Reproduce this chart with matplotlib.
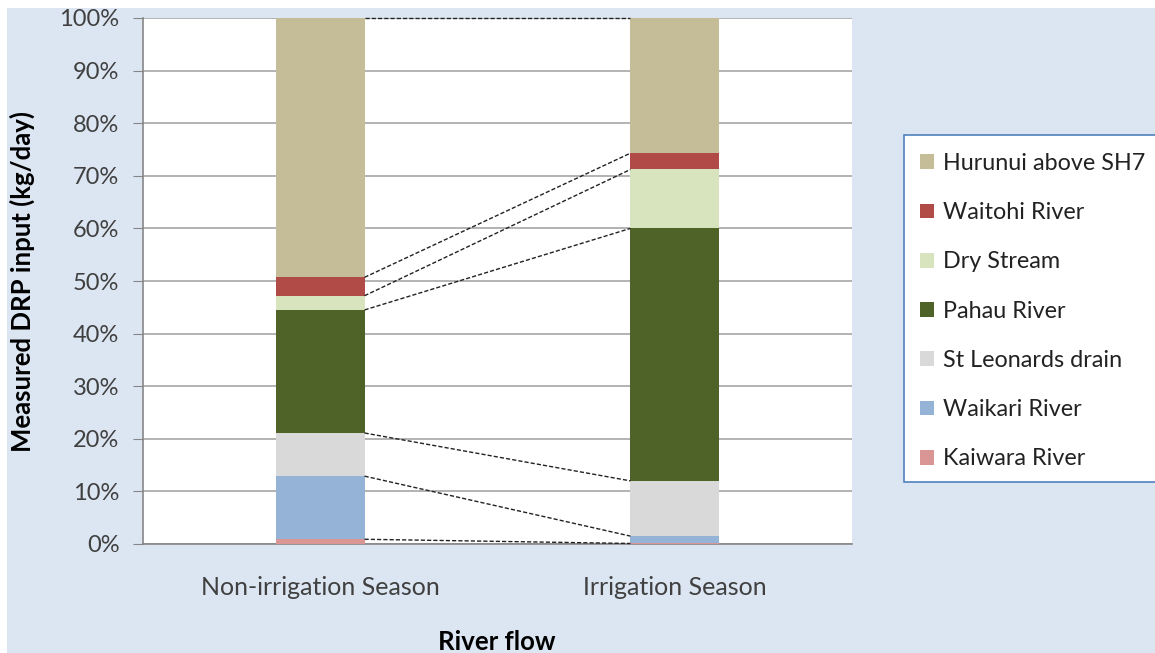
import matplotlib.pyplot as plt
from matplotlib.patches import Rectangle
import numpy as np

# data (share of measured DRP input, %)
seasons = ['Non-irrigation Season', 'Irrigation Season']
sources = ['Kaiwara River', 'Waikari River', 'St Leonards drain', 'Pahau River',
           'Dry Stream', 'Waitohi River', 'Hurunui above SH7']
non_irrigation = [0.9, 12.0, 8.2, 23.4, 2.7, 3.5, 49.3]
irrigation = [0.1, 1.4, 10.5, 48.0, 11.2, 3.1, 25.7]

colors = ['#d99694', '#95b3d7', '#d9d9d9', '#4f6228', '#d7e4bd', '#b04b48', '#c4bd97']

plt.rcParams['font.family'] = ['Lato', 'DejaVu Sans']

fig = plt.figure(figsize=(11.55, 6.53), dpi=100)
fig.patch.set_facecolor('white')
fig.patches.append(Rectangle((7 / 1155, 0), 1, 1 - 8 / 653, transform=fig.transFigure,
                             facecolor='#dce6f2', edgecolor='none', zorder=-5))

ax = fig.add_axes([143 / 1155, 1 - 544 / 653, (852 - 143) / 1155, (544 - 18) / 653])
ax.set_facecolor('white')

vals = np.array([non_irrigation, irrigation]).T
vals = vals / vals.sum(axis=0) * 100
x = np.arange(len(seasons))
width = 0.25
bottom = np.zeros(len(seasons))
for name, v, c in zip(sources, vals, colors):
    ax.bar(x, v, width, bottom=bottom, color=c, label=name, zorder=3)
    top = bottom + v
    # series lines between the bars
    ax.plot([x[0] + width / 2, x[1] - width / 2], [top[0], top[1]],
            color='#222222', lw=1.0, ls=(0, (3, 1.5)), zorder=4, clip_on=False)
    bottom = top

ax.set_xlim(-0.5, 1.5)
ax.set_ylim(0, 100)
ax.set_yticks(np.arange(0, 101, 10))
ax.set_yticklabels([f'{t}%' for t in range(0, 101, 10)])
ax.yaxis.grid(True, color='#a6a6a6', lw=1.2, zorder=0)
ax.tick_params(axis='y', length=7, color='#868686', labelsize=17, labelcolor='#404040', pad=10)
ax.set_xticks(x)
ax.set_xticklabels(seasons)
ax.tick_params(axis='x', length=0, labelsize=18, labelcolor='#404040', pad=23)
for s in ['top', 'right']:
    ax.spines[s].set_visible(False)
for s in ['left', 'bottom']:
    ax.spines[s].set_color('#868686')
    ax.spines[s].set_linewidth(1.2)

fig.text(22 / 1155, 1 - 281 / 653, 'Measured DRP input (kg/day)', rotation=90,
         ha='center', va='center', fontsize=18.5, fontweight='bold')
fig.text(497 / 1155, 1 - 642 / 653, 'River flow', ha='center', va='center',
         fontsize=18.5, fontweight='bold')

# legend box
fig.patches.append(Rectangle((904 / 1155, 1 - 482 / 653), 0.3, (482 - 135) / 653,
                             transform=fig.transFigure, facecolor='white',
                             edgecolor='#4f81bd', lw=1.2, zorder=1))
h, l = ax.get_legend_handles_labels()
fig.legend(h[::-1], l[::-1], loc='upper left', bbox_to_anchor=(899 / 1155, 1 - 132 / 653),
           frameon=False, fontsize=16.8, handlelength=0.6, handleheight=0.6,
           handletextpad=0.4, labelspacing=1.21, labelcolor='#222222')

fig.savefig('out.png', dpi=100)
